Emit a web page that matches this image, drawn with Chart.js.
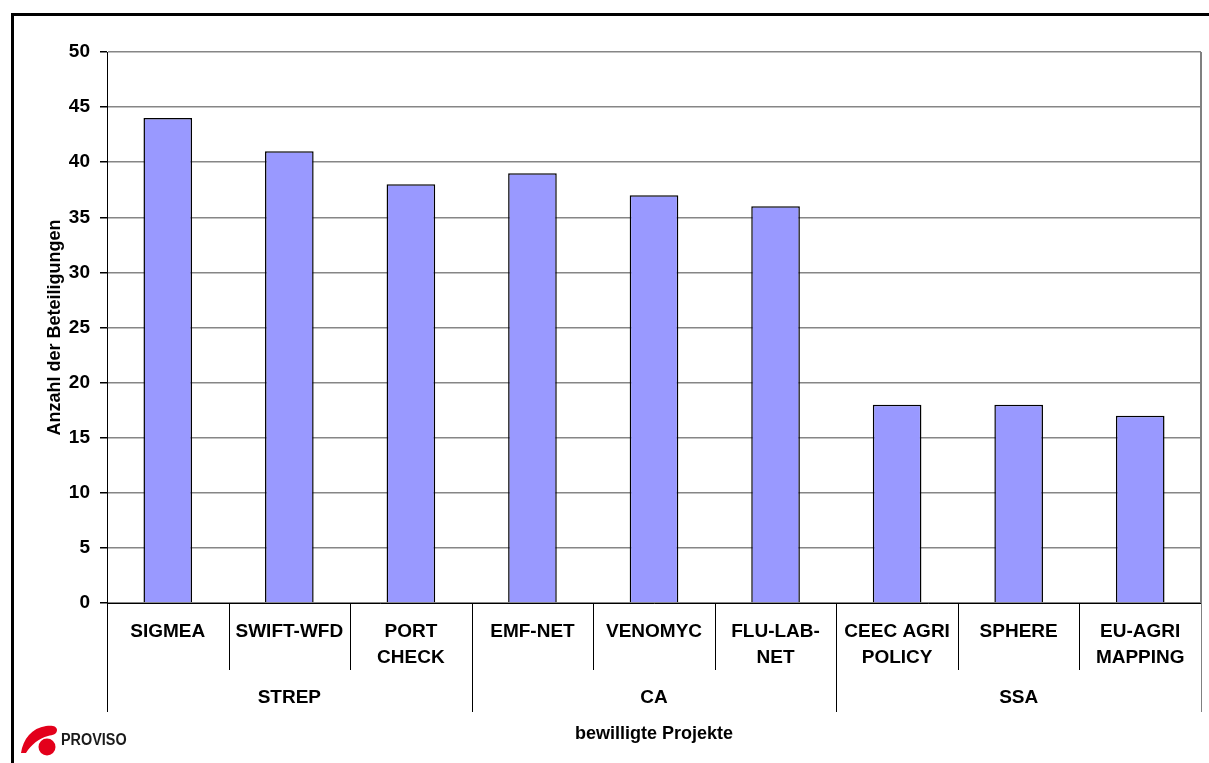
<!DOCTYPE html>
<html>
<head>
  <meta charset="UTF-8">
  <title>Anzahl der Beteiligungen</title>
  <script src="https://cdn.jsdelivr.net/npm/chart.js"></script>
  <style>
    html, body {
      margin: 0;
      padding: 0;
      background: #fff;
      overflow: hidden;
    }
    #wrap {
      position: relative;
      width: 1209px;
      height: 763px;
    }
    #frame {
      position: absolute;
      left: 11px;
      top: 13px;
      width: 1300px;
      height: 800px;
      border-left: 3px solid #000;
      border-top: 3px solid #000;
      pointer-events: none;
    }
    #logo-mark {
      position: absolute;
      left: 20px;
      top: 722px;
    }
    #logo-text {
      position: absolute;
      left: 61px;
      top: 732px;
      line-height: 16px;
      font-family: "Liberation Sans", Arial, sans-serif;
      font-weight: bold;
      font-size: 16px;
      color: #1a1a1a;
      transform: scaleX(0.9);
      transform-origin: left;
    }
  </style>
</head>
<body>
<div id="wrap">
  <canvas id="chart" width="1209" height="763"></canvas>
  <div id="frame"></div>
  <svg id="logo-mark" width="40" height="34" viewBox="0 0 40 34">
    <path d="M1 31 C3 17 12 6 26 4 C32 3 37 4 37 8 C37 12 33 13 28 14 C19 16 11 23 6 31 Z" fill="#e3001b"/>
    <circle cx="27" cy="25" r="8.5" fill="#e3001b"/>
  </svg>
  <div id="logo-text">PROVISO</div>
</div>
<script>
  // Projekte, gruppiert nach Instrument
  const projects = ['SIGMEA', 'SWIFT-WFD', ['PORT', 'CHECK'], 'EMF-NET', 'VENOMYC', ['FLU-LAB-', 'NET'],
    ['CEEC AGRI', 'POLICY'], 'SPHERE', ['EU-AGRI', 'MAPPING']];
  const participations = [44, 41, 38, 39, 37, 36, 18, 18, 17];
  const groups = ['STREP', 'CA', 'SSA'];
  const groupSizes = [3, 3, 3];
  const yTicks = [0, 5, 10, 15, 20, 25, 30, 35, 40, 45, 50];

  const fontFamily = '"Liberation Sans", Arial, sans-serif';

  // separator lines under the category axis
  const separatorPlugin = {
    id: 'separators',
    afterDraw(chart) {
      const ctx = chart.ctx;
      const x = chart.scales.x;
      const x2 = chart.scales.x2;
      const area = chart.chartArea;
      const n = projects.length;
      const groupEnds = [];
      let acc = 0;
      groupSizes.forEach(s => { acc += s; groupEnds.push(acc); });

      ctx.save();
      ctx.lineWidth = 1;
      for (let i = 0; i <= n; i++) {
        let px;
        if (i === 0) px = area.left;
        else if (i === n) px = area.right;
        else px = (x.getPixelForValue(i - 1) + x.getPixelForValue(i)) / 2;
        const isGroup = i === 0 || groupEnds.includes(i);
        const bottom = isGroup ? x2.top + 42 : x.bottom;
        ctx.strokeStyle = i === n ? '#808080' : '#000';
        ctx.beginPath();
        ctx.moveTo(Math.round(px) + 0.5, area.bottom);
        ctx.lineTo(Math.round(px) + 0.5, bottom);
        ctx.stroke();
      }
      // right edge of plot area
      ctx.strokeStyle = '#808080';
      ctx.lineWidth = 2;
      ctx.beginPath();
      ctx.moveTo(area.right, area.top);
      ctx.lineTo(area.right, area.bottom);
      ctx.stroke();
      ctx.restore();
    }
  };

  const ctx = document.getElementById('chart').getContext('2d');
  new Chart(ctx, {
    type: 'bar',
    data: {
      labels: projects,
      datasets: [{
        data: participations,
        backgroundColor: '#9999ff',
        borderColor: '#000',
        borderWidth: 1.5,
        barPercentage: 0.4,
        categoryPercentage: 1.0
      }]
    },
    options: {
      responsive: false,
      animation: false,
      layout: {
        padding: { left: 40, top: 52, right: 8, bottom: 18 }
      },
      plugins: {
        legend: { display: false },
        tooltip: { enabled: false }
      },
      scales: {
        y: {
          min: 0,
          max: 50,
          afterBuildTicks: s => { s.ticks = yTicks.map(v => ({ value: v })); },
          afterFit: s => { s.width = 67; },
          border: { color: '#000', width: 1 },
          grid: {
            color: '#868686',
            lineWidth: 1.5,
            tickColor: '#000',
            tickLength: 7
          },
          ticks: {
            padding: 10,
            color: '#000',
            font: { family: fontFamily, size: 19, weight: 'bold' }
          },
          title: {
            display: true,
            text: 'Anzahl der Beteiligungen',
            color: '#000',
            padding: { top: 4, bottom: 0 },
            font: { family: fontFamily, size: 18, weight: 'bold' }
          }
        },
        x: {
          position: 'bottom',
          weight: 1,
          afterFit: s => { s.height = 67; },
          border: { color: '#000', width: 1 },
          grid: { offset: true, drawOnChartArea: false, drawTicks: false },
          ticks: {
            padding: 16,
            color: '#000',
            maxRotation: 0,
            autoSkip: false,
            font: { family: fontFamily, size: 19, weight: 'bold', lineHeight: 1.37 }
          }
        },
        x2: {
          type: 'category',
          position: 'bottom',
          weight: 2,
          labels: groups,
          offset: true,
          afterFit: s => { s.height = 75; },
          border: { display: false },
          grid: { display: false, drawTicks: false },
          ticks: {
            padding: 16,
            color: '#000',
            font: { family: fontFamily, size: 19, weight: 'bold' }
          },
          title: {
            display: true,
            text: 'bewilligte Projekte',
            color: '#000',
            padding: { top: 0, bottom: 0 },
            font: { family: fontFamily, size: 18, weight: 'bold' }
          }
        }
      }
    },
    plugins: [separatorPlugin]
  });
</script>
</body>
</html>
